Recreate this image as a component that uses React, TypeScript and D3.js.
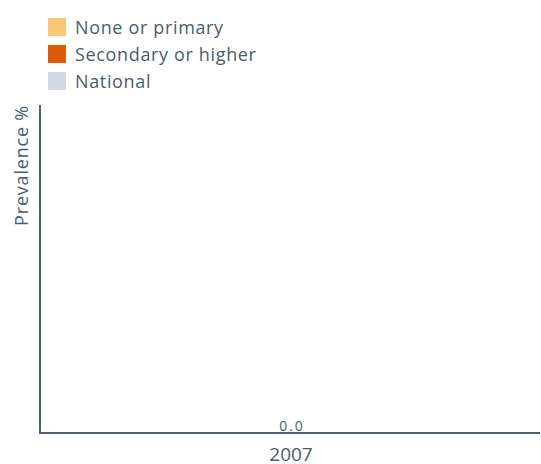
import React, { useEffect, useRef } from 'react';
import * as d3 from 'd3';

const categories = ['2007'];
const seriesNames = ['None or primary', 'Secondary or higher', 'National'];
const seriesColors = ['#fdc674', '#de5a0b', '#cfd8e3'];
const nonePrimary = [0];
const secondaryHigher = [0];
const national = [0];

const width = 541;
const height = 464;
const font = '"Open Sans", "Noto Sans", sans-serif';
const textColor = '#4b5c6b';
const axisColor = '#4d6072';

const App: React.FC = () => {
  const svgRef = useRef<SVGSVGElement>(null);

  useEffect(() => {
    document.body.style.margin = '0';
    if (!svgRef.current) return;
    const svg = d3.select(svgRef.current);
    svg.selectAll('*').remove();

    const margin = { top: 105, right: 1, bottom: 31, left: 40 };
    const values = [nonePrimary, secondaryHigher, national];

    const x0 = d3.scaleBand<string>()
      .domain(categories)
      .range([margin.left, width - margin.right])
      .paddingInner(0.2)
      .paddingOuter(0.2);
    const x1 = d3.scaleBand<string>()
      .domain(seriesNames)
      .range([0, x0.bandwidth()])
      .padding(0.1);

    const maxV = d3.max(values.flat()) || 0;
    const y = d3.scaleLinear()
      .domain([0, maxV > 0 ? maxV : 1])
      .range([height - margin.bottom, margin.top]);

    // bars
    categories.forEach((c, i) => {
      seriesNames.forEach((s, j) => {
        const v = values[j][i];
        svg.append('rect')
          .attr('x', (x0(c) || 0) + (x1(s) || 0))
          .attr('y', y(v))
          .attr('width', x1.bandwidth())
          .attr('height', y(0) - y(v))
          .attr('fill', seriesColors[j]);
      });
      // value label
      const top = d3.max(values, arr => arr[i]) || 0;
      svg.append('text')
        .attr('x', (x0(c) || 0) + x0.bandwidth() / 2 + 2)
        .attr('y', y(top) - 2.5)
        .attr('text-anchor', 'middle')
        .attr('font-family', font)
        .attr('font-size', 14)
        .attr('letter-spacing', 2)
        .attr('fill', textColor)
        .text(d3.format('.1f')(top));
    });

    // axes
    svg.append('line')
      .attr('x1', margin.left).attr('x2', margin.left)
      .attr('y1', margin.top).attr('y2', y(0) + 1)
      .attr('stroke', axisColor).attr('stroke-width', 2);
    svg.append('line')
      .attr('x1', margin.left - 1).attr('x2', width - margin.right)
      .attr('y1', y(0)).attr('y2', y(0))
      .attr('stroke', axisColor).attr('stroke-width', 2);

    // category labels
    categories.forEach(c => {
      svg.append('text')
        .attr('x', (x0(c) || 0) + x0.bandwidth() / 2 + 1)
        .attr('y', y(0) + 28)
        .attr('text-anchor', 'middle')
        .attr('font-family', font)
        .attr('font-size', 19)
        .attr('fill', textColor)
        .text(c);
    });

    // y label
    svg.append('text')
      .attr('transform', `translate(28,${margin.top}) rotate(-90)`)
      .attr('text-anchor', 'end')
      .attr('font-family', font)
      .attr('font-size', 18)
      .attr('letter-spacing', 0.8)
      .attr('fill', textColor)
      .text('Prevalence %');

    // legend
    const legend = svg.append('g').attr('transform', 'translate(48,18)');
    seriesNames.forEach((s, j) => {
      legend.append('rect')
        .attr('y', j * 27)
        .attr('width', 18).attr('height', 18)
        .attr('fill', seriesColors[j]);
      legend.append('text')
        .attr('x', 27).attr('y', j * 27 + 15.5)
        .attr('font-family', font)
        .attr('font-size', 18)
        .attr('letter-spacing', 0.65)
        .attr('fill', textColor)
        .text(s);
    });
  }, []);

  return <svg ref={svgRef} width={width} height={height} style={{ display: 'block' }} />;
};

export default App;
